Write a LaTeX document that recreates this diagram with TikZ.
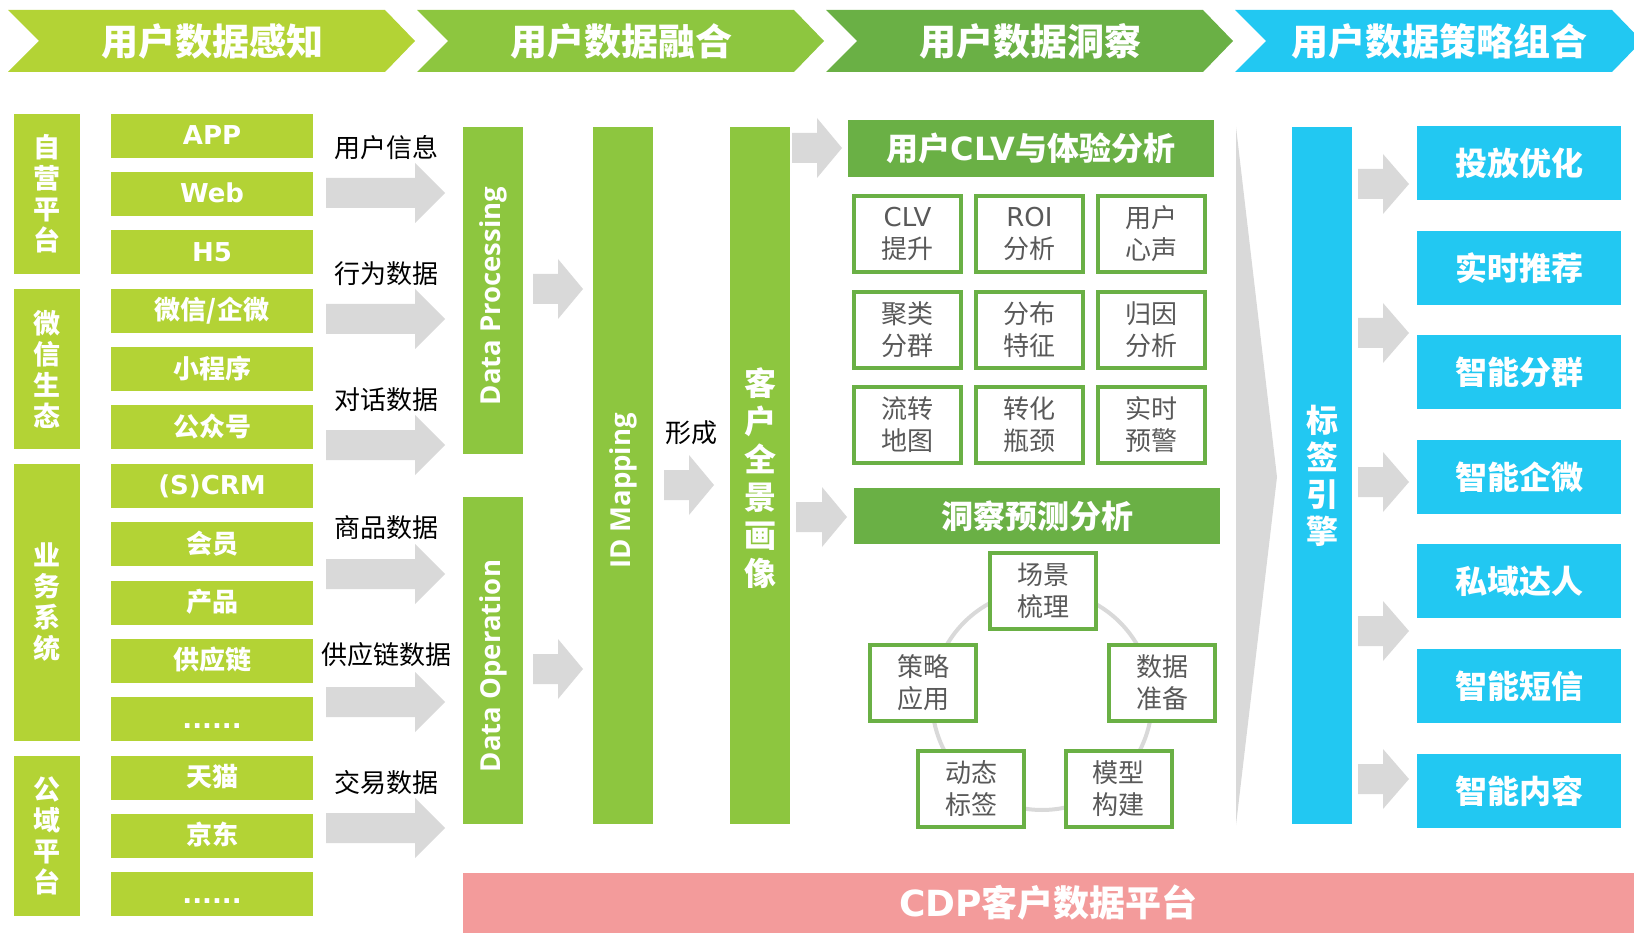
\documentclass[tikz,border=0pt]{standalone}
\usepackage{fontspec}
\setmainfont{DejaVu Sans}
\newfontfamily\cjk{Noto Sans CJK SC}
\newfontfamily\osans{Open Sans}
\definecolor{cLime}{HTML}{B3D335}
\definecolor{cGreen}{HTML}{8DC63F}
\definecolor{cDark}{HTML}{6AB045}
\definecolor{cCyan}{HTML}{22C8F2}
\definecolor{cPink}{HTML}{F39B9B}
\definecolor{cArrow}{HTML}{D9D9D9}
\definecolor{cText}{HTML}{595959}
\newcommand\blkarrow[4]{\fill[cArrow] (#1,#3-15) -- (#2-#4,#3-15) -- (#2-#4,#3-30) -- (#2,#3) -- (#2-#4,#3+30) -- (#2-#4,#3+15) -- (#1,#3+15) -- cycle;}
\begin{document}
\begin{tikzpicture}[x=1pt,y=-1pt,
  headtext/.style={text=white, font=\cjk\bfseries\fontsize{37}{40}\selectfont, inner sep=0},
  item/.style={fill=cLime, minimum width=202, minimum height=44, inner sep=0, text=white,
    font=\bfseries\fontsize{26}{30}\selectfont, text height=20, text depth=2},
  catbar/.style={fill=cLime, minimum width=66, inner sep=0, text=white, align=center,
    font=\cjk\bfseries\fontsize{27}{31}\selectfont},
  datalabel/.style={text=black, font=\cjk\fontsize{26}{30}\selectfont, inner sep=0},
  gbar/.style={fill=cGreen, minimum width=60, inner sep=0},
  vtext/.style={rotate=90, text=white, font=\osans\bfseries\fontsize{27.5}{30}\selectfont, inner sep=0},
  stack/.style={text=white, align=center, inner sep=0, font=\cjk\bfseries\fontsize{32}{38}\selectfont},
  titlebox/.style={fill=cDark, minimum width=366, minimum height=57, inner sep=0, text=white,
    font=\bfseries\fontsize{32}{36}\selectfont},
  gbox/.style={draw=cDark, line width=4, fill=white, minimum width=107, minimum height=76, inner sep=0,
    text=cText, align=center, font=\cjk\fontsize{26}{32}\selectfont},
  bluebox/.style={fill=cCyan, minimum width=204, minimum height=74, inner sep=0, text=white,
    font=\cjk\bfseries\fontsize{32}{36}\selectfont}
]
\useasboundingbox (0,0) rectangle (1634,933);

% header chevrons
\foreach \x/\c in {8/cLime,417/cGreen,826/cDark}
  {\fill[\c] (\x,10) -- (\x+377,10) -- (\x+407,41) -- (\x+377,72) -- (\x,72) -- (\x+31,41) -- cycle;}
\fill[cCyan] (1235,10) -- (1612,10) -- (1634,32.7) -- (1634,49.3) -- (1612,72) -- (1235,72) -- (1266,41) -- cycle;
\node[headtext] (h1) at (212,41) {用户数据感知};
\node[headtext] (h2) at (621,41) {用户数据融合};
\node[headtext] (h3) at (1030,41) {用户数据洞察};
\node[headtext] (h4) at (1439,41) {用户数据策略组合};

% category bars
\node[catbar, minimum height=160] (c1) at (47,193.6) {自\\营\\平\\台};
\node[catbar, minimum height=160.8] (c2) at (47,369) {微\\信\\生\\态};
\node[catbar, minimum height=277.5] (c3) at (47,602.5) {业\\务\\系\\统};
\node[catbar, minimum height=160.8] (c4) at (47,835.9) {公\\域\\平\\台};

% items
\node[item] (i0) at (212,135.6) {APP};
\node[item] (i1) at (212,194.0) {Web};
\node[item] (i2) at (212,252.3) {H5};
\node[item] (i3) at (212,310.7) {\cjk 微信/企微};
\node[item] (i4) at (212,369.0) {\cjk 小程序};
\node[item] (i5) at (212,427.4) {\cjk 公众号};
\node[item] (i6) at (212,485.8) {(S)CRM};
\node[item] (i7) at (212,544.1) {\cjk 会员};
\node[item] (i8) at (212,602.5) {\cjk 产品};
\node[item] (i9) at (212,660.8) {\cjk 供应链};
\node[item] (i10) at (212,719.2) {......};
\node[item] (i11) at (212,777.6) {\cjk 天猫};
\node[item] (i12) at (212,835.9) {\cjk 京东};
\node[item] (i13) at (212,894.3) {......};

% data labels and arrows
\node[datalabel] (l1) at (386,148) {用户信息};
\node[datalabel] (l2) at (386,274) {行为数据};
\node[datalabel] (l3) at (386,400) {对话数据};
\node[datalabel] (l4) at (386,528) {商品数据};
\node[datalabel] (l5) at (386,655) {供应链数据};
\node[datalabel] (l6) at (386,783) {交易数据};
\foreach \y in {193,319,445,574,702,828} {\blkarrow{326}{445}{\y}{30}}

% fusion bars
\node[gbar, minimum height=327] (dp) at (493,290.5) {};
\node[vtext] at (493,296) {Data Processing};
\node[gbar, minimum height=327] (do) at (493,660.5) {};
\node[vtext] at (493,666) {Data Operation};
\node[gbar, minimum height=697] (idm) at (623,475.5) {};
\node[vtext] at (623,491) {ID Mapping};
\node[gbar, minimum height=697] (kh) at (760,475.5) {};
\node[stack] at (760,478) {客\\户\\全\\景\\画\\像};
\blkarrow{533}{583}{289}{25}
\blkarrow{533}{583}{669}{25}
\blkarrow{664}{714}{485}{25}
\node[datalabel] (xc) at (691,433) {形成};
\blkarrow{792}{842}{148}{25}
\blkarrow{796}{847}{517}{25}

% insight: CLV
\node[titlebox] (clv) at (1031,148.5) {{\cjk 用户}CLV{\cjk 与体验分析}};
\node[gbox] (g11) at (907.5,234) {{\rmfamily CLV}\\提升};
\node[gbox] (g12) at (1029.5,234) {{\rmfamily ROI}\\分析};
\node[gbox] (g13) at (1151.5,234) {用户\\心声};
\node[gbox] (g21) at (907.5,330) {聚类\\分群};
\node[gbox] (g22) at (1029.5,330) {分布\\特征};
\node[gbox] (g23) at (1151.5,330) {归因\\分析};
\node[gbox] (g31) at (907.5,425) {流转\\地图};
\node[gbox] (g32) at (1029.5,425) {转化\\瓶颈};
\node[gbox] (g33) at (1151.5,425) {实时\\预警};

% insight: prediction cycle
\node[titlebox, minimum height=56] (pred) at (1037,516) {\cjk 洞察预测分析};
\draw[cArrow, line width=4] (1042,700) circle[radius=110];
\node[gbox, minimum width=106] (p1) at (1043,591) {场景\\梳理};
\node[gbox, minimum width=106] (p2) at (1162,683) {数据\\准备};
\node[gbox, minimum width=106] (p3) at (1118.5,789) {模型\\构建};
\node[gbox, minimum width=106] (p4) at (971,789) {动态\\标签};
\node[gbox, minimum width=106] (p5) at (923,683) {策略\\应用};

% wedge
\fill[cArrow] (1236,127) -- (1277,477) -- (1236,825) -- cycle;

% tag engine
\node[fill=cCyan, minimum width=60, minimum height=697, inner sep=0] (tag) at (1322,475.5) {};
\node[stack, font=\cjk\bfseries\fontsize{32}{37}\selectfont] at (tag.center) {标\\签\\引\\擎};
\foreach \y in {184,333,482,631,779} {\blkarrow{1358}{1409}{\y}{26}}
\node[bluebox] (b1) at (1519,163) {投放优化};
\node[bluebox] (b2) at (1519,268) {实时推荐};
\node[bluebox] (b3) at (1519,372) {智能分群};
\node[bluebox] (b4) at (1519,477) {智能企微};
\node[bluebox] (b5) at (1519,581) {私域达人};
\node[bluebox] (b6) at (1519,686) {智能短信};
\node[bluebox] (b7) at (1519,791) {智能内容};

% CDP bar
\node[fill=cPink, minimum width=1171, minimum height=60, inner sep=0, text=white,
  font=\bfseries\fontsize{36}{40}\selectfont] (cdp) at (1048.5,903) {CDP{\cjk 客户数据平台}};
\end{tikzpicture}
\end{document}
